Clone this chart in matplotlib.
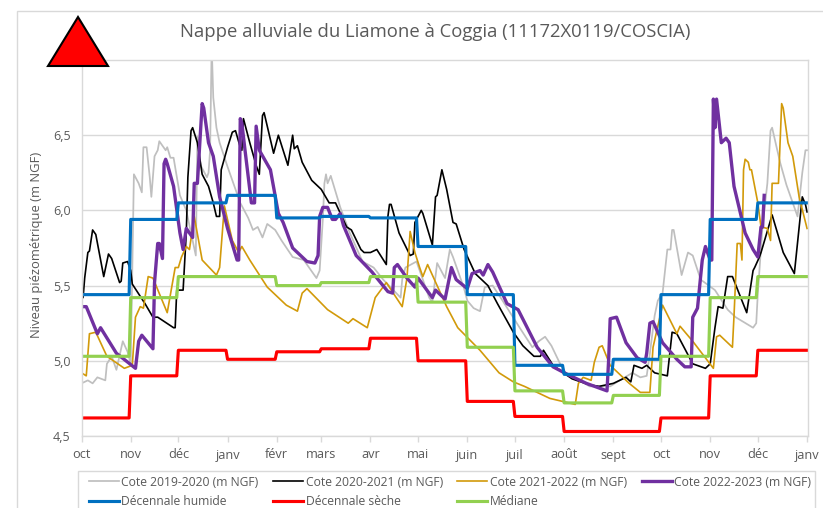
import matplotlib
matplotlib.use("Agg")
import matplotlib.pyplot as plt
from matplotlib.patches import Polygon, Rectangle

plt.rcParams['font.family'] = ['Open Sans', 'DejaVu Sans']

month_days = [0, 31, 61, 92, 123, 151, 182, 212, 243, 273, 304, 335, 365, 396, 426, 457]
month_labels = ['oct', 'nov', 'déc', 'janv', 'févr', 'mars', 'avr', 'mai', 'juin', 'juil', 'août', 'sept',
                'oct', 'nov', 'déc', 'janv']

# valeurs (jour depuis le 1er oct, m NGF)
days_1920 = [0, 4, 7, 10, 15, 16, 19, 22, 26, 29, 31, 33, 36, 38, 39, 41, 43, 44, 46, 48, 49, 53, 54, 56, 58, 62, 66,
             70, 72, 73, 74, 75, 79, 80, 81, 82, 83, 85, 87, 92, 100, 105, 108, 111, 114, 117, 122, 126, 133, 140,
             148, 150, 152, 153, 154, 155, 157, 163, 169, 177, 184, 190, 201, 202, 204, 211, 214, 219, 221, 224,
             229, 232, 234, 241, 243, 247, 251, 254, 259, 264, 270, 276, 284, 288, 292, 296, 301, 306, 314, 320,
             333, 339, 347, 352, 356, 358, 361, 363, 366, 369, 371, 372, 373, 378, 382, 385, 390, 399, 407, 412,
             423, 425, 426, 429, 432, 434, 435, 440, 444, 451, 454, 456, 457]
cote_1920 = [4.85, 4.87, 4.85, 4.89, 4.87, 4.98, 5.03, 4.94, 5.13, 5.06, 4.98, 6.24, 6.18, 6.12, 6.42, 6.42, 6.22,
             6.09, 6.36, 6.40, 6.46, 6.40, 6.42, 6.35, 6.35, 6.10, 6.00, 5.80, 5.70, 6.49, 6.42, 6.30, 6.22, 6.25,
             6.40, 7.10, 6.75, 6.55, 6.45, 6.29, 6.05, 5.95, 5.87, 5.89, 5.82, 5.91, 5.87, 5.80, 5.69, 5.67, 5.55,
             5.60, 5.94, 6.18, 6.24, 6.18, 6.23, 6.02, 5.85, 5.66, 5.62, 5.54, 5.42, 5.54, 5.62, 5.66, 5.57, 5.42,
             5.39, 5.65, 5.55, 5.74, 5.69, 5.48, 5.40, 5.35, 5.33, 5.49, 5.50, 5.42, 5.32, 5.22, 5.09, 5.13, 5.16,
             5.10, 4.99, 4.90, 4.87, 4.83, 4.83, 4.87, 4.92, 4.89, 4.90, 5.05, 5.30, 5.40, 5.45, 5.74, 5.74, 5.87,
             5.87, 5.57, 5.72, 5.70, 5.54, 5.47, 5.34, 5.29, 5.22, 5.25, 5.45, 5.90, 6.18, 6.53, 6.55, 6.32, 6.17,
             5.96, 6.25, 6.40, 6.40]

days_2021 = [0, 1, 2, 4, 5, 7, 9, 14, 17, 19, 24, 25, 26, 29, 31, 32, 40, 45, 48, 58, 59, 60, 64, 66, 67, 69, 70, 73,
             76, 80, 83, 85, 87, 88, 92, 95, 97, 100, 101, 102, 104, 106, 110, 112, 114, 115, 121, 124, 130, 133,
             134, 136, 139, 145, 151, 156, 160, 167, 170, 176, 178, 182, 186, 192, 193, 194, 195, 200, 207, 209,
             210, 214, 215, 221, 223, 224, 227, 230, 234, 236, 241, 248, 253, 256, 262, 272, 278, 285, 289, 291,
             297, 309, 320, 326, 335, 343, 346, 348, 353, 356, 361, 369, 372, 375, 385, 393, 396, 399, 401, 404,
             407, 410, 419, 423, 424, 427, 428, 435, 442, 449, 454, 456, 457]
cote_2021 = [5.44, 5.42, 5.55, 5.72, 5.73, 5.87, 5.84, 5.56, 5.71, 5.68, 5.52, 5.53, 5.65, 5.66, 5.60, 5.51, 5.38,
             5.29, 5.29, 5.22, 5.22, 5.47, 5.47, 5.85, 6.22, 6.53, 6.55, 6.45, 6.24, 6.16, 6.05, 5.96, 5.96, 6.27,
             6.42, 6.52, 6.53, 6.42, 6.40, 6.61, 6.53, 6.45, 6.30, 6.24, 6.63, 6.65, 6.38, 6.50, 6.30, 6.50, 6.41,
             6.43, 6.32, 6.20, 6.14, 6.05, 6.05, 5.89, 5.87, 5.74, 5.72, 5.72, 5.74, 5.64, 5.96, 6.04, 6.04, 5.85,
             5.70, 5.71, 5.92, 6.00, 5.98, 5.77, 6.09, 6.10, 6.27, 6.14, 5.92, 5.91, 5.74, 5.58, 5.53, 5.50, 5.38,
             5.19, 5.10, 5.03, 5.03, 5.07, 4.97, 4.88, 4.84, 4.83, 4.85, 4.89, 4.86, 4.97, 4.95, 4.97, 4.92, 4.90,
             5.19, 5.18, 4.98, 4.95, 4.98, 5.22, 5.36, 5.35, 5.56, 5.56, 5.32, 5.60, 5.62, 5.69, 5.72, 5.97, 5.72,
             5.58, 6.09, 6.04, 5.99]

days_2122 = [0, 3, 5, 9, 16, 27, 32, 34, 37, 39, 42, 45, 54, 59, 61, 63, 66, 68, 71, 76, 85, 87, 90, 95, 99, 101, 106,
             117, 129, 136, 139, 142, 155, 168, 171, 177, 180, 185, 192, 202, 205, 207, 210, 213, 215, 218, 230, 237,
             251, 263, 272, 279, 295, 303, 311, 313, 316, 321, 323, 326, 328, 333, 345, 352, 358, 360, 366, 375, 377,
             385, 398, 400, 402, 410, 411, 413, 415, 416, 417, 418, 420, 421, 422, 426, 428, 432, 434, 435, 439, 441,
             442, 445, 448, 452, 457]
cote_2122 = [4.92, 4.90, 5.18, 5.19, 5.03, 4.95, 4.97, 5.29, 5.36, 5.35, 5.56, 5.55, 5.32, 5.62, 5.62, 5.69, 5.76,
             5.74, 5.96, 5.67, 5.57, 5.62, 6.03, 5.80, 5.72, 5.76, 5.67, 5.49, 5.37, 5.33, 5.45, 5.48, 5.34, 5.25,
             5.28, 5.24, 5.22, 5.42, 5.52, 5.36, 5.55, 5.86, 5.72, 5.62, 5.56, 5.64, 5.36, 5.22, 5.07, 4.92, 4.86,
             4.83, 4.75, 4.73, 4.71, 4.85, 4.89, 4.87, 4.99, 5.09, 5.10, 4.97, 4.85, 4.79, 4.79, 5.09, 5.37, 5.18,
             5.23, 5.13, 4.95, 5.16, 5.17, 5.09, 5.30, 5.78, 5.78, 5.67, 6.27, 6.34, 6.32, 6.27, 6.27, 6.05, 5.89,
             5.88, 5.80, 6.18, 6.18, 6.71, 6.68, 6.45, 6.36, 6.09, 5.88]

days_2223 = [0, 3, 10, 12, 22, 34, 36, 38, 45, 46, 48, 49, 51, 52, 53, 54, 58, 62, 64, 66, 70, 71, 73, 76, 77, 80, 83,
             87, 92, 98, 99, 100, 101, 103, 107, 109, 110, 112, 119, 124, 127, 133, 142, 147, 149, 150, 152, 155, 158,
             160, 163, 165, 173, 183, 193, 196, 197, 199, 205, 210, 212, 221, 223, 229, 233, 236, 243, 246, 251, 253,
             256, 259, 268, 275, 287, 297, 306, 318, 331, 332, 333, 337, 343, 350, 355, 356, 358, 360, 366, 375, 380,
             384, 385, 388, 391, 393, 396, 397, 398, 399, 400, 403, 406, 408, 411, 418, 423, 426, 428, 429, 430]
cote_2223 = [5.36, 5.36, 5.18, 5.22, 5.05, 4.95, 5.13, 5.17, 5.08, 5.52, 5.78, 5.78, 5.68, 6.31, 6.34, 6.31, 6.16,
             5.85, 5.74, 5.88, 5.82, 6.18, 6.18, 6.71, 6.68, 6.45, 6.36, 6.09, 5.88, 5.67, 5.67, 6.61, 6.58, 6.40,
             6.05, 6.05, 6.56, 6.40, 6.27, 5.98, 5.92, 5.75, 5.66, 5.65, 5.70, 5.96, 6.02, 6.02, 5.94, 5.94, 5.98,
             5.90, 5.70, 5.59, 5.46, 5.45, 5.62, 5.64, 5.55, 5.49, 5.55, 5.42, 5.47, 5.41, 5.62, 5.54, 5.48, 5.58,
             5.60, 5.57, 5.64, 5.59, 5.38, 5.34, 5.09, 4.96, 4.91, 4.85, 4.80, 5.00, 5.28, 5.29, 5.12, 5.02, 4.99,
             5.05, 5.25, 5.26, 5.12, 5.01, 4.96, 4.96, 5.29, 5.35, 5.67, 5.76, 5.67, 5.67, 6.74, 6.55, 6.74, 6.45,
             6.48, 6.45, 6.16, 5.85, 5.74, 5.69, 5.89, 5.89, 6.10]

humide = [5.44, 5.94, 6.05, 6.10, 5.95, 5.96, 5.95, 5.76, 5.44, 4.97, 4.91, 5.01, 5.44, 5.94, 6.05]
seche = [4.62, 4.90, 5.07, 5.01, 5.06, 5.08, 5.15, 5.00, 4.73, 4.63, 4.53, 4.53, 4.62, 4.90, 5.07]
mediane = [5.03, 5.42, 5.56, 5.56, 5.50, 5.52, 5.56, 5.39, 5.09, 4.80, 4.72, 4.77, 5.03, 5.42, 5.56]

GREY_TEXT = '#595959'
GRID = '#D9D9D9'


def monthly_steps(values):
    # une valeur par mois, tenue du premier au dernier jour du mois
    xs, ys = [], []
    for i, v in enumerate(values):
        xs += [month_days[i], month_days[i + 1] - 1]
        ys += [v, v]
    xs[-1] = month_days[-1]
    return xs, ys


fig = plt.figure(figsize=(8.23, 5.08), dpi=100)
ax = fig.add_axes([81.5 / 823, 1 - 436 / 508, (808 - 81.5) / 823, (436 - 60) / 508])
ax.patch.set_alpha(0)

# cadre du graphique et cadre de la legende, coupes par le bord de l'image
fig.add_artist(Rectangle((17 / 823, -0.2), 1.1, 1.2 - 11 / 508, transform=fig.transFigure, fc='white', ec=GRID,
                         lw=1, zorder=-5))
fig.add_artist(Rectangle((78 / 823, -0.1), (815 - 78) / 823, 1.1 - 471 / 508, transform=fig.transFigure, fc='white',
                         ec=GRID, lw=1, zorder=-4))

l_1920, = ax.plot(days_1920, cote_1920, color='#BFBFBF', lw=1.25, label='Cote 2019-2020 (m NGF)')
l_2021, = ax.plot(days_2021, cote_2021, color='black', lw=1.2, label='Cote 2020-2021 (m NGF)')
l_2122, = ax.plot(days_2122, cote_2122, color='#D29A0A', lw=1.2, label='Cote 2021-2022 (m NGF)')
l_2223, = ax.plot(days_2223, cote_2223, color='#7030A0', lw=2.4, label='Cote 2022-2023 (m NGF)')
l_hum, = ax.plot(*monthly_steps(humide), color='#0070C0', lw=2.25, label='Décennale humide')
l_sec, = ax.plot(*monthly_steps(seche), color='#FF0000', lw=2.25, label='Décennale sèche')
l_med, = ax.plot(*monthly_steps(mediane), color='#92D050', lw=2.25, label='Médiane')

ax.set_xlim(0, 457.6)
ax.set_ylim(4.5, 7.0)
ax.set_xticks(month_days)
ax.set_xticklabels(month_labels)
ax.set_yticks([4.5, 5.0, 5.5, 6.0, 6.5])
ax.set_yticklabels(['4,5', '5,0', '5,5', '6,0', '6,5'])
ax.tick_params(axis='x', length=4, width=1, color=GRID, labelcolor=GREY_TEXT, labelsize=9.2, pad=5)
ax.tick_params(axis='y', length=0, labelcolor=GREY_TEXT, labelsize=9, pad=8)
ax.grid(axis='y', color=GRID, lw=1)
ax.set_axisbelow(True)
for s in ax.spines.values():
    s.set_color(GRID)
    s.set_linewidth(1)

fig.text(37 / 823, 1 - 245 / 508, 'Niveau piézométrique (m NGF)', color=GREY_TEXT, fontsize=9.4, rotation=90,
         ha='center', va='center')
fig.text(435.5 / 823, 1 - 32 / 508, 'Nappe alluviale du Liamone à Coggia (11172X0119/COSCIA)', color=GREY_TEXT,
         fontsize=13.35, ha='center', va='center')

handles = [l_1920, l_hum, l_2021, l_sec, l_2122, l_med, l_2223]
leg = fig.legend(handles, [h.get_label() for h in handles], ncol=4, loc='upper left',
                 bbox_to_anchor=(88.5 / 823, 1 - 475.5 / 508), fontsize=8.7, labelcolor=GREY_TEXT, handlelength=2.5,
                 handletextpad=0.2, columnspacing=1.2, labelspacing=0.52, borderpad=0, borderaxespad=0,
                 frameon=False)

# triangle d'alerte au-dessus du coin du graphique
fig.add_artist(Polygon([(78 / 823, 1 - 17 / 508), (48 / 823, 1 - 66 / 508), (108 / 823, 1 - 66 / 508)], closed=True,
                       transform=fig.transFigure, fc='#FF0000', ec='black', lw=1.5, zorder=10))

fig.savefig('out.png', dpi=100)
